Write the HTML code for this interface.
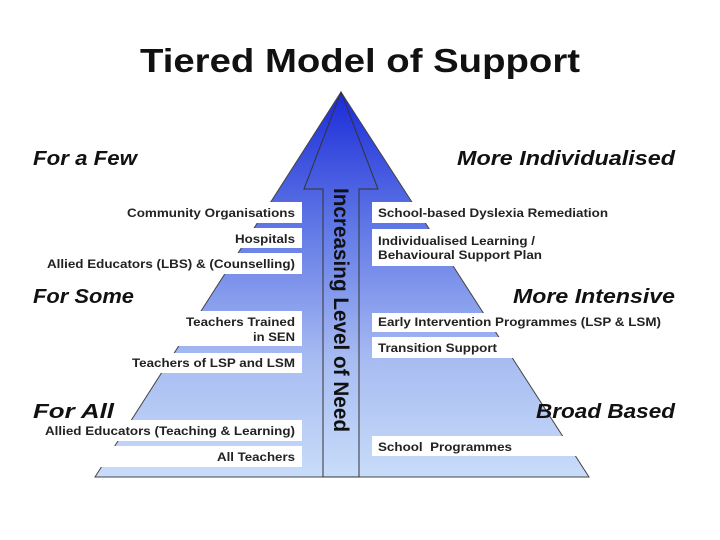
<!DOCTYPE html>
<html><head><meta charset="utf-8"><style>
html,body{margin:0;padding:0;background:#fff;}
svg{display:block;font-family:"Liberation Sans",Arial,sans-serif;}
.l{font-size:12px;font-weight:bold;fill:#222;}
.h{font-size:20px;font-weight:bold;font-style:italic;fill:#111;}
</style></head><body>
<svg width="720" height="540" viewBox="0 0 720 540">
<defs>
<linearGradient id="g" x1="0" y1="92" x2="0" y2="477" gradientUnits="userSpaceOnUse">
<stop offset="0" stop-color="#1a2ad8"/>
<stop offset="0.35" stop-color="#6078e6"/>
<stop offset="0.7" stop-color="#a8bcf2"/>
<stop offset="1" stop-color="#c8dcfa"/>
</linearGradient>
</defs>
<text x="140" y="72" textLength="440" lengthAdjust="spacingAndGlyphs" font-size="33" font-weight="bold" fill="#111">Tiered Model of Support</text>
<polygon points="341,92 589,477 95,477" fill="url(#g)" stroke="#444" stroke-width="1"/>
<polygon points="341,92 378,189 359,189 359,477 323,477 323,189 304,189" fill="url(#g)" stroke="#333" stroke-width="1"/>
<g fill="#fff">
<rect x="0" y="202" width="302" height="21"/>
<rect x="0" y="228" width="302" height="20"/>
<rect x="0" y="253" width="302" height="21"/>
<rect x="0" y="311" width="302" height="35"/>
<rect x="0" y="353" width="302" height="20"/>
<rect x="0" y="420" width="302" height="21"/>
<rect x="0" y="446" width="302" height="21"/>
<rect x="372" y="202" width="348" height="21"/>
<rect x="372" y="229" width="348" height="37"/>
<rect x="372" y="313" width="348" height="19"/>
<rect x="372" y="337" width="348" height="21"/>
<rect x="372" y="436" width="348" height="20"/>
</g>
<text class="l" x="127" y="217" textLength="168" lengthAdjust="spacingAndGlyphs">Community Organisations</text>
<text class="l" x="235" y="243" textLength="60" lengthAdjust="spacingAndGlyphs">Hospitals</text>
<text class="l" x="47" y="268" textLength="248" lengthAdjust="spacingAndGlyphs">Allied Educators (LBS) &amp; (Counselling)</text>
<text class="l" x="186" y="326" textLength="109" lengthAdjust="spacingAndGlyphs">Teachers Trained</text>
<text class="l" x="253" y="341" textLength="42" lengthAdjust="spacingAndGlyphs">in SEN</text>
<text class="l" x="132" y="367" textLength="163" lengthAdjust="spacingAndGlyphs">Teachers of LSP and LSM</text>
<text class="l" x="45" y="435" textLength="250" lengthAdjust="spacingAndGlyphs">Allied Educators (Teaching &amp; Learning)</text>
<text class="l" x="217" y="461" textLength="78" lengthAdjust="spacingAndGlyphs">All Teachers</text>
<text class="l" x="378" y="217" textLength="230" lengthAdjust="spacingAndGlyphs">School-based Dyslexia Remediation</text>
<text class="l" x="378" y="245" textLength="157" lengthAdjust="spacingAndGlyphs">Individualised Learning /</text>
<text class="l" x="378" y="259" textLength="164" lengthAdjust="spacingAndGlyphs">Behavioural Support Plan</text>
<text class="l" x="378" y="326" textLength="283" lengthAdjust="spacingAndGlyphs">Early Intervention Programmes (LSP &amp; LSM)</text>
<text class="l" x="378" y="352" textLength="119" lengthAdjust="spacingAndGlyphs">Transition Support</text>
<text class="l" x="378" y="451" textLength="134" lengthAdjust="spacingAndGlyphs">School&#160; Programmes</text>
<text class="h" x="33" y="165" textLength="104" lengthAdjust="spacingAndGlyphs">For a Few</text>
<text class="h" x="33" y="303" textLength="101" lengthAdjust="spacingAndGlyphs">For Some</text>
<text class="h" x="33" y="418" textLength="81" lengthAdjust="spacingAndGlyphs">For All</text>
<text class="h" x="457" y="165" textLength="218" lengthAdjust="spacingAndGlyphs">More Individualised</text>
<text class="h" x="513" y="303" textLength="162" lengthAdjust="spacingAndGlyphs">More Intensive</text>
<text class="h" x="536" y="418" textLength="139" lengthAdjust="spacingAndGlyphs">Broad Based</text>
<text transform="translate(334,188) rotate(90)" textLength="244" lengthAdjust="spacingAndGlyphs" font-size="21" font-weight="bold" fill="#111">Increasing Level of Need</text>
</svg>
</body></html>
